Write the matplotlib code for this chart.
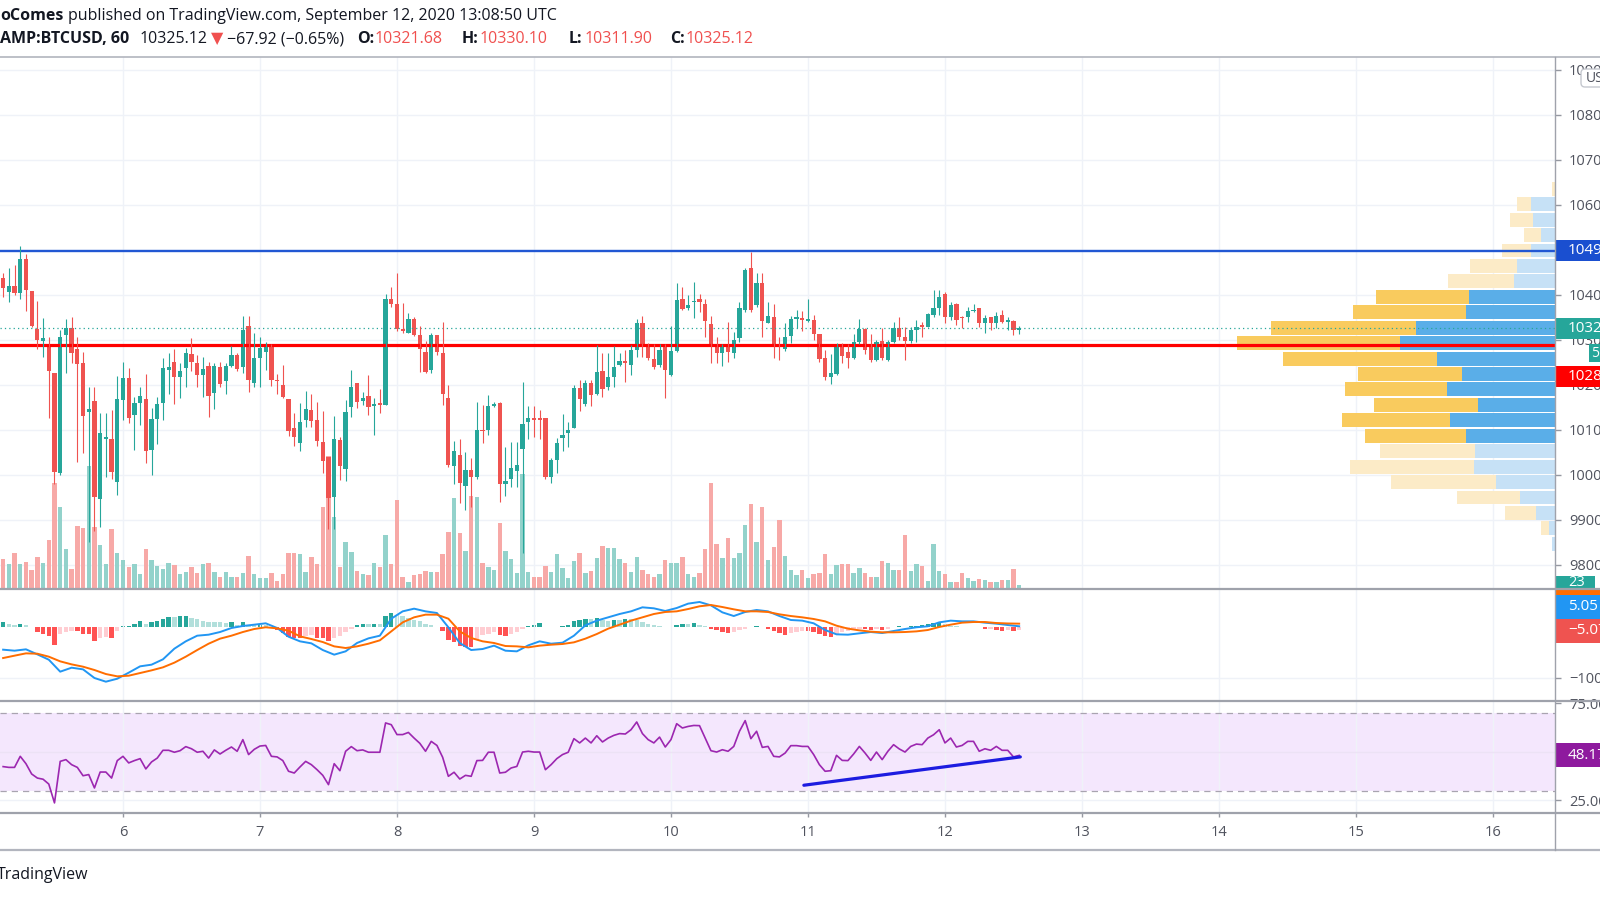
import numpy as np
import matplotlib
matplotlib.use("Agg")
import matplotlib.pyplot as plt
from matplotlib.patches import Rectangle, FancyBboxPatch

plt.rcParams['font.family'] = ['Open Sans', 'DejaVu Sans']

# ---------------- data ----------------
START_DAY, START_HOUR = 5, 3          # first visible hourly bar: Sep 5, 03:00 UTC
opens = [10436, 10406, 10419, 10404, 10480, 10408, 10323, 10296, 10288, 10226,
         10004, 10310, 10325, 10280, 10247, 10138, 10163, 9945, 10078, 10080,
         9984, 10166, 10215, 10132, 10158, 10168, 10054, 10123, 10160, 10232,
         10251, 10216, 10236, 10267, 10248, 10221, 10241, 10182, 10240, 10208,
         10241, 10265, 10238, 10331, 10203, 10258, 10273, 10285, 10210, 10200,
         10168, 10103, 10071, 10121, 10143, 10121, 10072, 10040, 9949, 10077,
         10012, 10151, 10204, 10164, 10174, 10153, 10158, 10154, 10391, 10378,
         10323, 10315, 10345, 10310, 10273, 10232, 10311, 10271, 10171, 10020,
         10043, 9975, 10011, 9994, 10100, 10100, 10153, 10160, 9978, 9989,
         10008, 10056, 10117, 10125, 10125, 10125, 9994, 10032, 10082, 10093,
         10103, 10193, 10157, 10204, 10179, 10231, 10194, 10216, 10243, 10253,
         10243, 10277, 10336, 10285, 10256, 10243, 10283, 10221, 10274, 10389,
         10369, 10383, 10389, 10380, 10334, 10283, 10269, 10285, 10271, 10303,
         10366, 10458, 10377, 10426, 10337, 10349, 10291, 10278, 10308, 10345,
         10347, 10341, 10343, 10312, 10260, 10217, 10223, 10291, 10273, 10258,
         10295, 10323, 10290, 10254, 10297, 10254, 10295, 10325, 10306, 10297,
         10322, 10332, 10328, 10355, 10369, 10401, 10351, 10379, 10351, 10351,
         10363, 10369, 10336, 10349, 10336, 10354, 10340, 10342, 10321.68]
highs = [10447, 10458, 10465, 10508, 10491, 10408, 10386, 10347, 10306, 10226,
         10322, 10345, 10351, 10305, 10273, 10195, 10195, 10136, 10136, 10143,
         10219, 10249, 10236, 10173, 10195, 10223, 10147, 10173, 10258, 10269,
         10280, 10247, 10282, 10303, 10265, 10262, 10251, 10248, 10251, 10248,
         10286, 10269, 10352, 10352, 10315, 10306, 10295, 10291, 10223, 10243,
         10168, 10136, 10160, 10186, 10180, 10162, 10142, 10040, 10130, 10084,
         10165, 10232, 10204, 10184, 10222, 10169, 10189, 10402, 10417, 10447,
         10382, 10360, 10349, 10330, 10297, 10314, 10311, 10339, 10199, 10075,
         10080, 10051, 10036, 10162, 10154, 10177, 10162, 10162, 10062, 10073,
         10073, 10206, 10152, 10152, 10143, 10125, 10036, 10082, 10134, 10117,
         10199, 10210, 10211, 10211, 10288, 10269, 10269, 10285, 10269, 10277,
         10288, 10345, 10352, 10293, 10290, 10290, 10290, 10330, 10425, 10417,
         10399, 10428, 10402, 10391, 10352, 10306, 10291, 10340, 10317, 10384,
         10458, 10495, 10447, 10447, 10384, 10380, 10306, 10336, 10352, 10366,
         10364, 10389, 10354, 10312, 10277, 10268, 10293, 10293, 10291, 10312,
         10345, 10325, 10312, 10300, 10325, 10299, 10340, 10351, 10328, 10327,
         10343, 10340, 10358, 10410, 10411, 10406, 10384, 10382, 10352, 10373,
         10379, 10369, 10354, 10351, 10362, 10366, 10351, 10343, 10330.10]
lows = [10395, 10384, 10399, 10391, 10364, 10327, 10280, 10262, 10125, 9980,
        9999, 10225, 10247, 10028, 10047, 9851, 9875, 9884, 9995, 9991,
        9955, 10121, 10115, 10054, 10110, 10025, 10000, 10068, 10121, 10180,
        10157, 10171, 10194, 10229, 10195, 10173, 10127, 10145, 10194, 10180,
        10239, 10229, 10226, 10184, 10195, 10195, 10232, 10197, 10179, 10169,
        10085, 10063, 10053, 10106, 10106, 10063, 10003, 9880, 9880, 9988,
        9986, 10127, 10147, 10154, 10132, 10088, 10137, 10154, 10373, 10320,
        10314, 10314, 10308, 10228, 10225, 10226, 10265, 10154, 10017, 9979,
        9936, 9921, 9928, 9991, 10071, 10088, 10151, 9940, 9952, 9973,
        9973, 9825, 10080, 10084, 10080, 9989, 9982, 10004, 10053, 10062,
        10103, 10141, 10152, 10152, 10177, 10173, 10188, 10195, 10241, 10206,
        10221, 10262, 10262, 10254, 10234, 10240, 10171, 10219, 10273, 10366,
        10366, 10347, 10362, 10305, 10248, 10247, 10241, 10251, 10258, 10295,
        10362, 10362, 10373, 10306, 10337, 10260, 10254, 10275, 10293, 10325,
        10320, 10340, 10299, 10251, 10210, 10201, 10221, 10247, 10236, 10256,
        10291, 10268, 10251, 10253, 10254, 10253, 10293, 10300, 10254, 10293,
        10295, 10305, 10327, 10351, 10354, 10336, 10343, 10332, 10325, 10340,
        10362, 10327, 10314, 10321, 10325, 10336, 10321, 10310, 10311.90]
closes = [10415, 10419, 10403, 10480, 10410, 10330, 10299, 10303, 10230, 10006,
          10305, 10325, 10271, 10245, 10129, 10146, 9949, 10092, 10083, 10005,
          10168, 10214, 10126, 10160, 10174, 10053, 10123, 10157, 10237, 10240,
          10216, 10230, 10269, 10251, 10221, 10234, 10175, 10241, 10201, 10241,
          10265, 10234, 10321, 10211, 10260, 10282, 10288, 10211, 10207, 10173,
          10097, 10083, 10117, 10145, 10120, 10075, 10030, 9948, 10079, 10020,
          10140, 10195, 10162, 10169, 10149, 10157, 10154, 10389, 10378, 10323,
          10318, 10345, 10310, 10280, 10227, 10310, 10273, 10180, 10021, 10053,
          9982, 10010, 9994, 10100, 10097, 10153, 10157, 9980, 9986, 10014,
          10021, 10112, 10125, 10121, 10121, 9994, 10032, 10071, 10088, 10099,
          10193, 10168, 10203, 10177, 10227, 10191, 10216, 10240, 10253, 10248,
          10277, 10336, 10285, 10260, 10240, 10277, 10232, 10274, 10388, 10367,
          10377, 10386, 10383, 10342, 10283, 10271, 10288, 10273, 10299, 10369,
          10454, 10366, 10425, 10342, 10352, 10290, 10285, 10306, 10345, 10349,
          10343, 10346, 10312, 10257, 10217, 10225, 10290, 10263, 10260, 10295,
          10323, 10277, 10254, 10295, 10260, 10295, 10325, 10306, 10297, 10322,
          10327, 10327, 10357, 10371, 10394, 10351, 10377, 10343, 10348, 10364,
          10366, 10336, 10347, 10336, 10352, 10340, 10343, 10322, 10325.12]
volumes = [29.7, 25, 36.3, 25, 27.3, 19, 32.3, 26.3, 49, 106.3,
           81.7, 40.3, 19.7, 63, 60.7, 123, 62.3, 44, 25, 60.3,
           35.7, 29, 22.3, 25, 15, 39.7, 29, 23, 20, 26.3,
           24, 15, 17.3, 22.3, 16.3, 24.7, 25.7, 17.3, 11.7, 17.3,
           12.3, 12.3, 15.7, 33, 15, 10.7, 10.7, 16.3, 8.3, 15,
           35.7, 36.3, 35, 16.7, 31.7, 25, 82.3, 133, 72.3, 21.7,
           47.3, 36.7, 18.3, 14.7, 14, 25.7, 22.3, 54, 24.7, 89,
           11.7, 7.3, 14, 15, 18.3, 17.3, 17.3, 35, 57, 90.7,
           55.7, 38, 93, 91.7, 26.3, 21.7, 19, 65.7, 38, 29.7,
           15.7, 114.7, 17.3, 12.3, 11.7, 23, 17.3, 35, 20.7, 11.3,
           28.3, 35.7, 15.7, 17.7, 30.7, 43, 40.7, 40.7, 29.7, 26.3,
           17.3, 31.7, 19, 14.7, 12.3, 15, 29, 26.3, 26.3, 32.3,
           15, 11.7, 16.3, 40.3, 105.7, 44.7, 30.7, 51, 30.7, 36.3,
           64, 85, 47.3, 82.3, 29, 42.3, 69, 33, 19, 14,
           19, 10.7, 14.7, 16.3, 34.7, 14.7, 24, 24.7, 25, 16.3,
           20.7, 16.3, 11.7, 11.7, 28.3, 26.3, 19, 19, 54, 18,
           24.7, 23, 8.3, 44.7, 18, 14.7, 7.3, 7.3, 15.7, 10.7,
           8.3, 10, 9, 7.3, 6.7, 9, 9, 19.7, 4]
# MACD line and signal, read at every second bar
macd_line = [-44.5, -46.5, -43.8, -53.8, -64.4, -88.2, -80.3, -83.6, -100.8, -108.1,
             -102.2, -90.2, -77.6, -74.3, -63.7, -42.5, -27.9, -16.7, -14.7, -9.4,
             -1.4, 2.6, 5.2, 7.9, -1.4, -18.7, -27.9, -31.9, -45.2, -54.4,
             -47.8, -31.2, -22.0, -16.7, 17.1, 31.7, 37.0, 31.7, 28.4, 0.0,
             -31.2, -45.2, -43.2, -36.5, -46.5, -47.8, -35.9, -27.9, -32.6, -30.6,
             -16.7, 3.9, 13.2, 19.8, 26.4, 31.7, 39.7, 37.7, 32.4, 38.3,
             47.0, 50.3, 43.6, 29.7, 22.4, 30.4, 34.4, 31.7, 22.4, 14.5,
             13.2, 7.9, -5.4, -14.0, -14.7, -12.0, -9.4, -11.4, -7.4, -3.4,
             0.0, 2.0, 9.8, 13.2, 11.8, 11.8, 9.2, 7.2, 4.5, 2.0]
signal_line = [-61.1, -56.4, -51.8, -52.5, -58.4, -67.7, -73.7, -78.3, -84.9, -92.9,
               -97.5, -96.2, -90.9, -85.6, -79.6, -70.3, -58.4, -45.2, -32.6, -22.6,
               -16.7, -9.4, -3.4, 0.0, -2.1, -6.7, -18.0, -23.3, -29.3, -37.9,
               -41.2, -37.9, -32.6, -25.9, -8.1, 9.8, 19.8, 25.1, 25.1, 17.1,
               -8.1, -21.3, -27.9, -31.2, -37.2, -37.9, -39.9, -36.5, -34.6, -33.2,
               -29.9, -22.6, -13.4, -2.7, 5.2, 13.2, 19.8, 26.4, 30.4, 31.7,
               36.3, 41.7, 44.3, 40.3, 35.7, 31.7, 31.7, 30.4, 25.8, 22.4,
               19.8, 16.5, 11.8, 3.2, -2.7, -6.1, -8.7, -10.0, -10.0, -9.4,
               -8.1, -5.4, 0.6, 5.2, 9.2, 10.5, 10.5, 8.5, 7.6, 7.2]
macd_hist = [9.9, 7.3, 5.3, 6.6, 4.0, 0.5, -9.9, -13.3, -16.6, -34.5,
             -12.6, -9.9, -6.6, -6.6, -13.3, -13.3, -26.5, -21.2, -19.9, -21.2,
             -8.0, 2.0, 2.7, 6.6, 11.9, 6.6, 9.9, 11.9, 16.6, 20.5,
             20.5, 21.9, 23.2, 18.6, 17.2, 11.9, 10.6, 10.6, 9.9, 8.6,
             9.9, 5.3, 10.6, 5.3, 4.0, 5.3, 5.3, 0.3, -4.6, -11.3,
             -19.9, -21.2, -21.2, -17.9, -14.6, -21.2, -21.2, -27.8, -21.2, -17.9,
             -9.3, -2.7, 5.3, 6.6, 6.6, 7.3, 6.6, 21.9, 28.5, 25.2,
             21.9, 18.6, 15.2, 11.9, 6.6, 4.0, 0.3, -8.0, -24.5, -29.2,
             -37.8, -39.8, -39.8, -24.5, -14.6, -12.6, -9.3, -14.6, -17.9, -12.6,
             -10.0, -3.3, 2.0, 5.3, 8.0, 1.3, 0.7, 1.3, 3.3, 5.3,
             13.3, 15.2, 16.6, 16.6, 18.6, 15.2, 13.3, 15.2, 15.2, 16.6,
             16.6, 15.2, 11.3, 6.6, 4.6, 3.3, 1.3, 1.3, 4.6, 6.6,
             6.6, 8.0, 4.6, 2.0, -3.3, -5.3, -9.9, -11.9, -9.9, -5.3,
             -3.3, 0.3, 2.0, -0.3, -3.3, -6.6, -11.9, -15.2, -11.9, -8.6,
             -6.6, -6.6, -9.9, -13.3, -17.9, -19.9, -13.3, -9.9, -8.0, -5.3,
             -3.3, -3.3, -5.3, -3.3, -5.3, -3.3, 0.3, 2.0, 0.3, 2.0,
             3.3, 4.6, 6.6, 8.0, 9.3, 6.6, 3.3, 2.0, 1.3, 1.3,
             1.3, 1.3, -3.3, -2.6, -5.3, -6.6, -5.3, -6.6, -5.05]
rsi = [42.4, 42.0, 42.0, 47.7, 43.9, 38.6, 36.5, 35.9, 33.4, 23.7,
       45.1, 46.0, 43.4, 42.0, 37.7, 38.3, 31.4, 39.6, 39.6, 36.5,
       45.5, 47.7, 44.3, 45.5, 46.5, 41.2, 44.8, 46.8, 50.8, 50.8,
       49.8, 50.6, 52.7, 51.6, 49.8, 50.3, 46.8, 51.0, 48.9, 50.8,
       52.5, 50.3, 56.3, 48.6, 51.3, 53.0, 53.3, 47.7, 47.4, 45.5,
       40.0, 39.1, 42.2, 45.1, 43.4, 40.8, 37.9, 33.1, 43.9, 40.3,
       50.3, 52.7, 50.6, 51.0, 49.8, 49.8, 49.8, 64.9, 64.0, 58.9,
       58.9, 60.0, 57.1, 54.4, 50.3, 55.4, 53.3, 47.2, 37.4, 39.5,
       36.0, 37.9, 37.4, 45.5, 45.6, 49.8, 49.8, 39.1, 39.5, 41.7,
       42.5, 49.9, 50.3, 49.9, 49.9, 40.8, 43.4, 46.5, 48.6, 49.8,
       56.8, 54.6, 57.1, 54.6, 58.3, 55.1, 57.1, 58.5, 59.4, 59.2,
       61.4, 65.4, 59.4, 56.3, 54.6, 57.6, 52.5, 56.3, 64.5, 62.3,
       63.1, 63.6, 63.5, 57.1, 50.6, 49.9, 51.1, 50.3, 52.8, 60.6,
       66.1, 56.8, 60.6, 52.3, 52.8, 47.7, 47.4, 49.4, 53.2, 53.2,
       52.8, 52.8, 48.6, 43.4, 40.0, 40.3, 48.2, 45.6, 45.5, 48.9,
       52.8, 49.4, 45.6, 49.9, 46.0, 50.3, 53.7, 51.5, 49.9, 52.8,
       54.0, 53.7, 57.1, 58.8, 61.4, 54.6, 57.1, 52.5, 53.3, 55.4,
       55.4, 50.3, 51.6, 50.8, 52.8, 50.8, 50.8, 47.4, 48.17]
day_ticks = list(range(6, 17))
price_ticks = list(range(9800, 11000, 100))
macd_ticks = [-100]
rsi_ticks = [25, 75]
resistance_level = 10497.0
support_level = 10287.0
last_price = 10325.12
# visible-range volume profile, rows listed top -> bottom
vp_top, vp_bottom = 10652, 9829
vp_up = [0, 24, 22, 14, 24, 37, 40, 84, 87, 136, 152, 116, 91, 106, 75, 103, 87,
         78, 79, 58, 34, 19, 6, 3]
vp_down = [3, 13, 22, 16, 28, 46, 65, 91, 111, 142, 160, 151, 102, 100, 102, 106, 99,
           94, 122, 103, 62, 30, 8, 0]
vp_value_area = [False] * 7 + [True] * 10 + [False] * 7
rsi_trend_days = [10.97, 12.55]
rsi_trend_vals = [32.8, 47.4]

# ---------------- figure ----------------
W, H = 1600, 900
fig = plt.figure(figsize=(W / 100, H / 100), dpi=100)
fig.patch.set_facecolor('white')
PR = 1555
TOP, M1, M2, M3, BOT = 57, 589, 701, 813, 850
XLIM = (5.1022, 16.453)
GRID = '#EFF2F8'
AXC = '#50535E'
UP, DN = '#26A69A', '#EF5350'


def rect(y0, y1):
    return [0, 1 - y1 / H, PR / W, (y1 - y0) / H]


def clean(a):
    a.set_xlim(*XLIM)
    for s in a.spines.values():
        s.set_visible(False)
    a.set_xticks([])
    a.set_yticks([])
    a.patch.set_visible(False)


n = len(closes)
t = START_DAY + (START_HOUR + np.arange(n)) / 24.0
O, Hh, L, C = map(np.array, (opens, highs, lows, closes))
up = C >= O
cols = np.where(up, UP, DN)
YLIM = (9745.6, 10927.8)

# background grid of main pane
axbg = fig.add_axes(rect(TOP, M1), zorder=0)
clean(axbg)
axbg.set_ylim(*YLIM)
for d in day_ticks:
    axbg.axvline(d, color=GRID, lw=1)
for p in price_ticks:
    axbg.axhline(p, color=GRID, lw=1)

# volume
axv = fig.add_axes(rect(TOP, M1), zorder=1)
clean(axv)
axv.set_ylim(0, M1 - TOP)
axv.bar(t, volumes, width=0.032, color=np.where(up, '#93D2CB', '#F7A9A7'), linewidth=0)

# volume profile
axp = fig.add_axes(rect(TOP, M1), zorder=2)
clean(axp)
axp.set_ylim(*YLIM)
nrows = len(vp_up)
edges = np.linspace(vp_top, vp_bottom, nrows + 1)
centers = (edges[:-1] + edges[1:]) / 2
rh = abs(edges[1] - edges[0]) * 0.9
upc = ['#5AAEE8' if va else '#C6E1F6' for va in vp_value_area]
dnc = ['#F9CB5E' if va else '#FCEBC7' for va in vp_value_area]
axp.barh(centers, vp_up, height=rh, left=0, color=upc, linewidth=0)
axp.barh(centers, vp_down, height=rh, left=vp_up, color=dnc, linewidth=0)
axp.set_xlim(1524, 0)

# candles
ax = fig.add_axes(rect(TOP, M1), zorder=3)
clean(ax)
ax.set_ylim(*YLIM)
ax.axhline(resistance_level, color='#2157D3', lw=1.7)
ax.axhline(support_level, color='#FF0000', lw=2.3)
ax.axhline(last_price, color=UP, lw=0.9, ls=(0, (1, 2.5)))
ax.vlines(t, L, Hh, colors=cols, lw=0.8)
ax.bar(t, np.maximum(np.abs(C - O), 1.3), bottom=np.minimum(O, C), width=0.031,
       color=cols, linewidth=0)
TICKFS = 10.5
ax.yaxis.tick_right()
ax.set_yticks(price_ticks)
ax.set_yticklabels([str(p) for p in price_ticks])
ax.tick_params(axis='y', direction='out', length=4, width=1, color='#9598A1',
               labelsize=TICKFS, labelcolor=AXC, pad=6)

# MACD pane
axm = fig.add_axes(rect(M1, M2), zorder=3)
clean(axm)
axm.set_ylim(-146.5, 76.1)
for d in day_ticks:
    axm.axvline(d, color=GRID, lw=1)
for v in macd_ticks:
    axm.axhline(v, color=GRID, lw=1)
hcols = []
prev = 0.0
for h in macd_hist:
    if h >= 0:
        hcols.append('#26A69A' if h > prev else '#B2DFDB')
    else:
        hcols.append('#FFCDD2' if h > prev else '#FF5252')
    prev = h
axm.bar(t, macd_hist, width=0.032, color=hcols, linewidth=0)
ts = t[::2]
axm.plot(ts, macd_line, color='#2196F3', lw=1.4)
axm.plot(ts, signal_line, color='#FF6D00', lw=1.4)
axm.yaxis.tick_right()
axm.set_yticks(macd_ticks)
axm.set_yticklabels(['\u2212100'])
axm.tick_params(axis='y', direction='out', length=4, width=1, color='#9598A1',
                labelsize=TICKFS, labelcolor=AXC, pad=6)

# RSI pane
axr = fig.add_axes(rect(M2, M3), zorder=3)
clean(axr)
axr.set_ylim(18.5, 76.2)
axr.axhspan(30, 70, color='#F4E7FD', lw=0)
for d in day_ticks:
    axr.axvline(d, color=GRID, lw=1)
axr.axhline(50, color='#ECE2F5', lw=1)
axr.axhline(25, color=GRID, lw=1)
axr.axhline(70, color='#A9A4B0', lw=0.9, ls=(0, (5, 4)))
axr.axhline(30, color='#A9A4B0', lw=0.9, ls=(0, (5, 4)))
axr.plot(t, rsi, color='#9C27B0', lw=1.2)
axr.plot(rsi_trend_days, rsi_trend_vals, color='#1C1CE0', lw=2.3, solid_capstyle='round')
axr.yaxis.tick_right()
axr.set_yticks(rsi_ticks)
axr.set_yticklabels([f'{v:.2f}' for v in rsi_ticks])
axr.tick_params(axis='y', direction='out', length=4, width=1, color='#9598A1',
                labelsize=TICKFS, labelcolor=AXC, pad=6)
axr.set_xticks(day_ticks)
axr.set_xticklabels([str(d) for d in day_ticks])
axr.tick_params(axis='x', direction='out', length=3, width=1, color='#9598A1',
                labelsize=10.5, labelcolor=AXC, pad=6)

# ---------------- overlay: separators, labels, header ----------------
ov = fig.add_axes([0, 0, 1, 1], zorder=10)
ov.set_xlim(0, W)
ov.set_ylim(H, 0)
ov.axis('off')


def py(a, v):
    return H - a.transData.transform((XLIM[0], v))[1]


for y, c, lw in [(TOP, '#B2B5BE', 1.2), (M1, '#9FA2AB', 1.6), (M2, '#9FA2AB', 1.6),
                 (M3, '#9FA2AB', 1.6), (BOT, '#B2B5BE', 1.6)]:
    ov.plot([0, W], [y, y], color=c, lw=lw, solid_capstyle='butt')
ov.plot([PR, PR], [TOP, BOT], color='#9FA2AB', lw=1)


def label(y0, y1, bg, text, x0=PR, x1=W + 5, tc='white', fs=11):
    ov.add_patch(Rectangle((x0, y0), x1 - x0, y1 - y0, color=bg, lw=0))
    if text:
        ov.text(1568, (y0 + y1) / 2, text, color=tc, fontsize=fs, va='center', ha='left')


yb = py(ax, resistance_level)
label(yb - 10.5, yb + 10.5, '#1A4FD0', f'{resistance_level:.2f}')
yl = py(ax, last_price)
label(yl - 10.5, yl + 10.5, UP, f'{last_price:.2f}')
label(yl + 16, yl + 34, UP, None, x0=1589)
ov.text(1591, yl + 25, '51:10', color='white', fontsize=10, va='center')
label(yl + 38, yl + 59, '#FF0000', f'{support_level:.2f}')
label(576, 590, UP, '23', x1=1595, fs=10.5)
label(589, 596, '#FF6D00', None)
label(595, 619, '#2196F3', '5.05')
label(619, 643, '#EF5350', '\u22125.07')
yr = py(axr, rsi[-1])
label(yr - 12, yr + 12, '#8E1A9E', f'{rsi[-1]:.2f}')

ov.add_patch(FancyBboxPatch((1581, 69), 40, 18, boxstyle='round,pad=0,rounding_size=4',
                            fc='white', ec='#C5C8CF', lw=1))
ov.text(1586, 78.5, 'USD', color=AXC, fontsize=10, va='center')

# header
BLACK = '#131722'
RED = '#F0504F'
HFS = 11.5
ov.text(0, 15.5, 'oComes', fontsize=HFS, fontweight='bold', color=BLACK, va='center')
ov.text(68, 15.5, 'published on TradingView.com, September 12, 2020 13:08:50 UTC',
        fontsize=HFS, color=BLACK, va='center')
hdr = [(0, 'AMP:BTCUSD, 60', BLACK, 'bold'),
       (140, '10325.12', BLACK, 'normal'),
       (211, '\u25BC', RED, 'normal'),
       (227, '\u221267.92 (\u22120.65%)', BLACK, 'normal'),
       (357, 'O:', BLACK, 'bold'),
       (374.5, '10321.68', RED, 'normal'),
       (462, 'H:', BLACK, 'bold'),
       (479.5, '10330.10', RED, 'normal'),
       (569, 'L:', BLACK, 'bold'),
       (584.5, '10311.90', RED, 'normal'),
       (670, 'C:', BLACK, 'bold'),
       (685.5, '10325.12', RED, 'normal')]
for x, s, c, w in hdr:
    ov.text(x, 39, s, fontsize=HFS, color=c, fontweight=w, va='center',
            family=['Open Sans', 'DejaVu Sans'])

ov.text(-3, 875, 'TradingView', fontsize=11.5, color=BLACK, va='center')

fig.savefig('out.png', dpi=100, facecolor='white')
